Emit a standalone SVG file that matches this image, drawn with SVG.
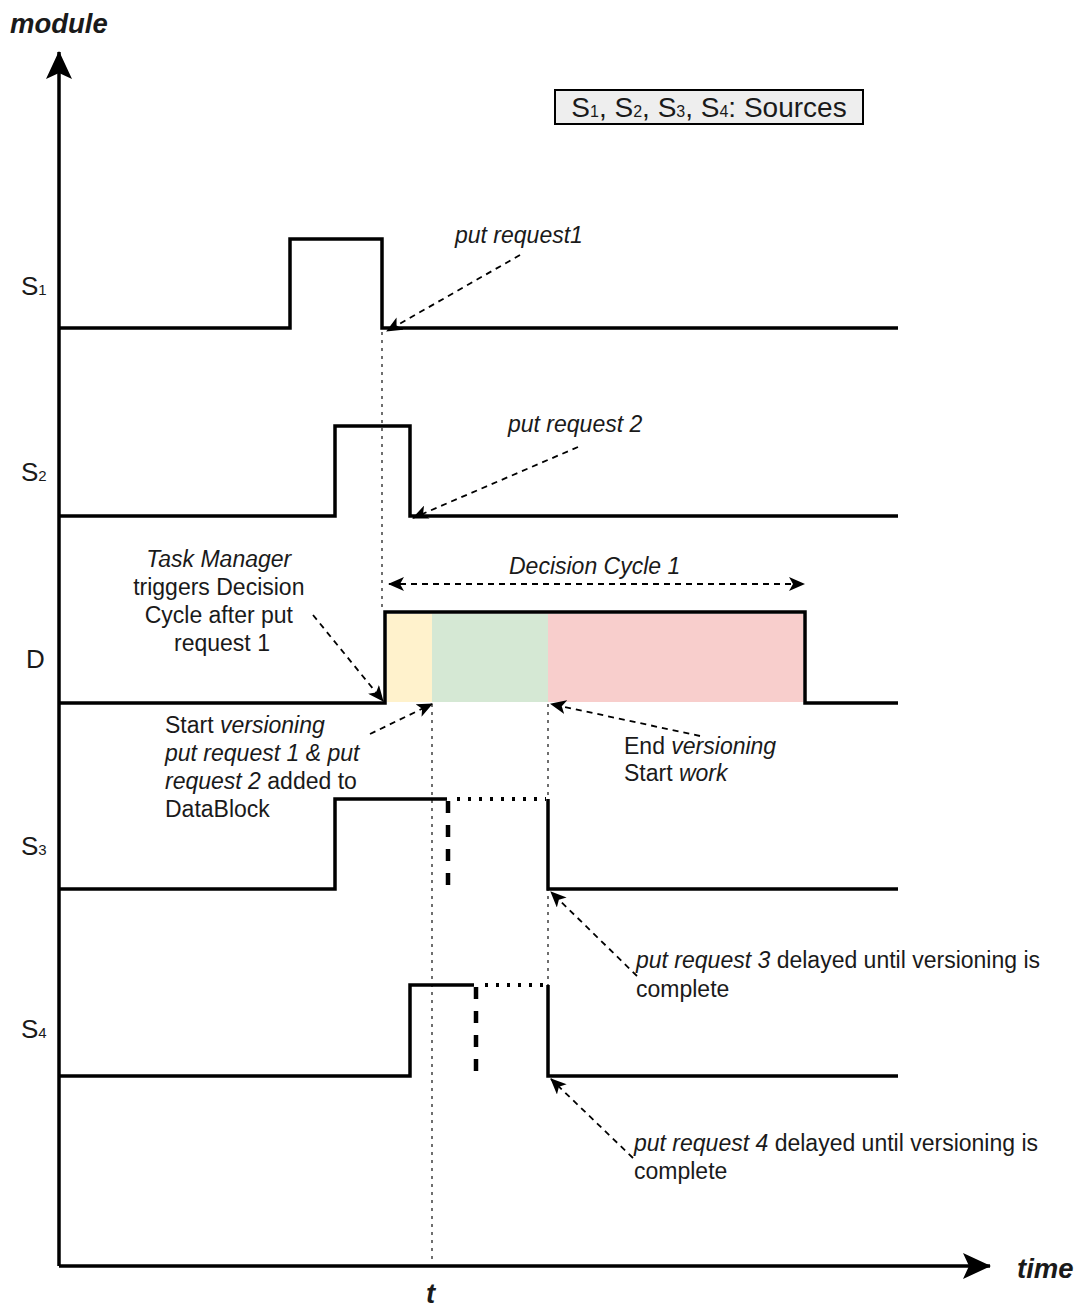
<svg xmlns="http://www.w3.org/2000/svg" width="1078" height="1310" viewBox="0 0 1078 1310">
  <style>
    text { font-family: "Liberation Sans", Arial, sans-serif; fill: #1a1a1a; }
    .axislabel { font-size: 27.5px; font-weight: bold; font-style: italic; }
    .row { font-size: 26px; }
    .legendtext { font-size: 28px; }
    .sub { font-size: 15px; }
    .lsub { font-size: 16px; }
    .ann { font-size: 23px; }
    .it { font-style: italic; }
    .sig { fill: none; stroke: #000; stroke-width: 3.5; stroke-linejoin: miter; }
    .axis { fill: none; stroke: #000; stroke-width: 3.5; }
    .guide { fill: none; stroke: #222; stroke-width: 1.3; stroke-dasharray: 3 5; }
    .hold { fill: none; stroke: #000; stroke-width: 4.5; stroke-dasharray: 12 12; }
    .wait { fill: none; stroke: #000; stroke-width: 4; stroke-dasharray: 3 8; }
    .note { fill: none; stroke: #000; stroke-width: 1.8; stroke-dasharray: 6 5; }
  </style>
  <defs>
    <marker id="head" viewBox="0 0 16 14" refX="15" refY="7" markerWidth="16" markerHeight="14" markerUnits="userSpaceOnUse" orient="auto-start-reverse">
      <path d="M0,0 L16,7 L0,14 L4,7 z" fill="#000"/>
    </marker>
    <marker id="axishead" viewBox="0 0 28 26" refX="27" refY="13" markerWidth="28" markerHeight="26" markerUnits="userSpaceOnUse" orient="auto">
      <path d="M0,0 L28,13 L0,26 L6,13 z" fill="#000"/>
    </marker>
  </defs>

  <rect width="1078" height="1310" fill="#fff"/>

  <!-- decision cycle phases -->
  <g id="phases">
    <rect x="387" y="614" width="45" height="88" fill="#fff2cc"/>
    <rect x="432" y="614" width="116" height="88" fill="#d5e8d4"/>
    <rect x="548" y="614" width="255" height="88" fill="#f8cecc"/>
  </g>

  <!-- guide lines -->
  <g id="guides">
    <path class="guide" d="M382,332 V612"/>
    <path class="guide" d="M432,704 V1264"/>
    <path class="guide" d="M548,704 V1076"/>
  </g>

  <!-- axes -->
  <g id="axes">
    <path class="axis" d="M59,1266 V52" marker-end="url(#axishead)"/>
    <path class="axis" d="M59,1266 H990" marker-end="url(#axishead)"/>
    <text class="axislabel" x="10" y="33">module</text>
    <text class="axislabel" x="1017" y="1278">time</text>
    <text class="axislabel" x="426" y="1303">t</text>
  </g>

  <!-- legend -->
  <g id="legend">
    <rect x="555" y="90" width="308" height="34" fill="#eeeeee" stroke="#000" stroke-width="2"/>
    <text class="legendtext" x="709" y="117" text-anchor="middle">S<tspan class="lsub">1</tspan>, S<tspan class="lsub">2</tspan>, S<tspan class="lsub">3</tspan>, S<tspan class="lsub">4</tspan>: Sources</text>
  </g>

  <!-- signal rows -->
  <g id="s1">
    <text class="row" x="21" y="295">S<tspan class="sub">1</tspan></text>
    <path class="sig" d="M59,328 H290 V239 H382 V328 H898"/>
  </g>
  <g id="s2">
    <text class="row" x="21" y="481">S<tspan class="sub">2</tspan></text>
    <path class="sig" d="M59,516 H335 V426 H410 V516 H898"/>
  </g>
  <g id="d">
    <text class="row" x="26" y="668">D</text>
    <path class="sig" d="M59,703 H385 V612 H805 V703 H898"/>
  </g>
  <g id="s3">
    <text class="row" x="21" y="855">S<tspan class="sub">3</tspan></text>
    <path class="sig" d="M59,889 H335 V799 H447"/>
    <path class="hold" d="M448,801 V892"/>
    <path class="wait" d="M457,799 H546"/>
    <path class="sig" d="M548,799 V889 H898"/>
  </g>
  <g id="s4">
    <text class="row" x="21" y="1038">S<tspan class="sub">4</tspan></text>
    <path class="sig" d="M59,1076 H410 V985 H474"/>
    <path class="hold" d="M476,987 V1078"/>
    <path class="wait" d="M485,985 H546"/>
    <path class="sig" d="M548,985 V1076 H898"/>
  </g>

  <!-- annotations -->
  <g id="labels">
    <text class="ann it" x="455" y="243">put request1</text>
    <text class="ann it" x="508" y="432">put request 2</text>
    <text class="ann it" x="509" y="574">Decision Cycle 1</text>
    <text class="ann" text-anchor="middle">
      <tspan class="it" x="222" y="567">Task Manager</tspan>
      <tspan x="222" y="595">triggers Decision</tspan>
      <tspan x="222" y="623">Cycle after put</tspan>
      <tspan x="222" y="651">request 1</tspan>
    </text>
    <text class="ann">
      <tspan x="165" y="733">Start <tspan class="it">versioning</tspan></tspan>
      <tspan class="it" x="165" y="761">put request 1 &amp; put</tspan>
      <tspan x="165" y="789"><tspan class="it">request 2</tspan> added to</tspan>
      <tspan x="165" y="817">DataBlock</tspan>
    </text>
    <text class="ann">
      <tspan x="624" y="754">End <tspan class="it">versioning</tspan></tspan>
      <tspan x="624" y="781">Start <tspan class="it">work</tspan></tspan>
    </text>
    <text class="ann">
      <tspan x="636" y="968"><tspan class="it">put request 3</tspan> delayed until versioning is</tspan>
      <tspan x="636" y="997">complete</tspan>
    </text>
    <text class="ann">
      <tspan x="634" y="1151"><tspan class="it">put request 4</tspan> delayed until versioning is</tspan>
      <tspan x="634" y="1179">complete</tspan>
    </text>
  </g>

  <!-- connectors -->
  <g id="connectors">
    <path class="note" d="M520,255 L387,331" marker-end="url(#head)"/>
    <path class="note" d="M578,447 L413,518" marker-end="url(#head)"/>
    <path class="note" d="M389,584 H804" marker-start="url(#head)" marker-end="url(#head)"/>
    <path class="note" d="M313,615 L383,701" marker-end="url(#head)"/>
    <path class="note" d="M370,734 L432,704" marker-end="url(#head)"/>
    <path class="note" d="M700,736 L551,704" marker-end="url(#head)"/>
    <path class="note" d="M637,976 L551,892" marker-end="url(#head)"/>
    <path class="note" d="M633,1158 L551,1079" marker-end="url(#head)"/>
  </g>
</svg>
